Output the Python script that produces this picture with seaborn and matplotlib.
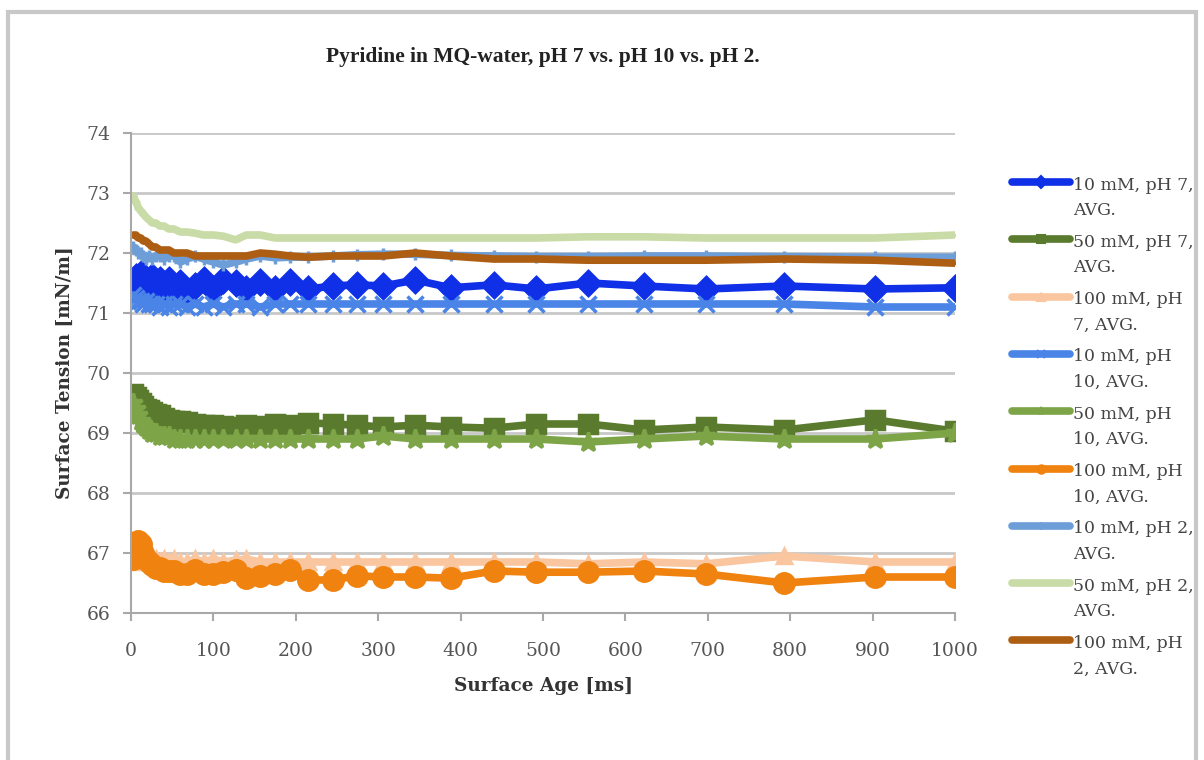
import numpy as np
import pandas as pd
import matplotlib
matplotlib.use("Agg")
import matplotlib.pyplot as plt
import seaborn as sns
from matplotlib.patches import Rectangle
from matplotlib.lines import Line2D

# ---- data ----
surface_age = [3, 6, 9, 12, 15, 18, 22, 26, 30, 35, 40, 46, 52, 60, 68, 78, 88, 100,
               112, 127, 140, 157, 175, 193, 215, 245, 274, 306, 345, 388, 440, 492,
               555, 622, 698, 793, 903, 1000]

labels = ["10 mM, pH 7,\nAVG.", "50 mM, pH 7,\nAVG.", "100 mM, pH\n7, AVG.",
          "10 mM, pH\n10, AVG.", "50 mM, pH\n10, AVG.", "100 mM, pH\n10, AVG.",
          "10 mM, pH 2,\nAVG.", "50 mM, pH 2,\nAVG.", "100 mM, pH\n2, AVG."]

ph7_10mM = [71.45, 71.6, 71.35, 71.65, 71.4, 71.55, 71.35, 71.6, 71.4, 71.55, 71.35, 71.55, 71.4,
            71.5, 71.35, 71.45, 71.55, 71.4, 71.55, 71.5, 71.4, 71.52, 71.4, 71.52, 71.4, 71.45,
            71.47, 71.45, 71.55, 71.42, 71.47, 71.4, 71.5, 71.45, 71.4, 71.45, 71.4, 71.42]
ph7_50mM = [69.65, 69.6, 69.55, 69.5, 69.45, 69.4, 69.38, 69.35, 69.32, 69.3, 69.25, 69.22, 69.2,
            69.2, 69.18, 69.15, 69.13, 69.13, 69.12, 69.1, 69.13, 69.12, 69.15, 69.13, 69.17,
            69.15, 69.13, 69.1, 69.13, 69.1, 69.08, 69.15, 69.15, 69.05, 69.1, 69.05, 69.22, 69.03]
ph7_100mM = [66.85, 66.95, 67.0, 66.95, 66.9, 66.9, 66.85, 66.85, 66.9, 66.85, 66.9, 66.85, 66.9,
             66.85, 66.85, 66.9, 66.85, 66.9, 66.85, 66.88, 66.9, 66.85, 66.85, 66.85, 66.85,
             66.85, 66.85, 66.85, 66.85, 66.85, 66.85, 66.85, 66.82, 66.85, 66.82, 66.95, 66.85,
             66.85]
ph10_10mM = [71.3, 71.25, 71.2, 71.2, 71.15, 71.2, 71.15, 71.15, 71.15, 71.1, 71.15, 71.1, 71.15,
             71.15, 71.1, 71.15, 71.1, 71.15, 71.1, 71.15, 71.15, 71.1, 71.15, 71.15, 71.15,
             71.15, 71.15, 71.15, 71.15, 71.15, 71.15, 71.15, 71.15, 71.15, 71.15, 71.15, 71.1,
             71.1]
ph10_50mM = [69.5, 69.4, 69.3, 69.2, 69.15, 69.1, 69.05, 69.0, 69.0, 68.95, 68.95, 68.95, 68.9,
             68.9, 68.9, 68.9, 68.9, 68.9, 68.9, 68.9, 68.9, 68.9, 68.9, 68.9, 68.9, 68.9, 68.9,
             68.95, 68.9, 68.9, 68.9, 68.9, 68.85, 68.9, 68.95, 68.9, 68.9, 69.0]
ph10_100mM = [66.9, 67.1, 67.2, 67.15, 67.0, 66.9, 66.85, 66.8, 66.75, 66.75, 66.7, 66.7, 66.7,
              66.65, 66.65, 66.72, 66.65, 66.65, 66.68, 66.72, 66.58, 66.62, 66.65, 66.72, 66.55,
              66.55, 66.62, 66.6, 66.6, 66.58, 66.7, 66.68, 66.68, 66.7, 66.65, 66.5, 66.6, 66.6]
ph2_10mM = [72.1, 72.05, 72.0, 72.0, 71.95, 71.9, 71.95, 71.9, 71.95, 71.95, 71.9, 71.95, 71.95,
            71.85, 71.9, 71.95, 71.9, 71.85, 71.8, 71.85, 71.9, 71.95, 71.92, 71.93, 71.93,
            71.95, 71.97, 71.98, 71.98, 71.96, 71.95, 71.94, 71.94, 71.95, 71.95, 71.94, 71.93,
            71.93]
ph2_50mM = [72.95, 72.85, 72.75, 72.7, 72.65, 72.6, 72.55, 72.5, 72.5, 72.45, 72.45, 72.4, 72.4,
            72.35, 72.35, 72.33, 72.3, 72.3, 72.28, 72.22, 72.3, 72.3, 72.25, 72.25, 72.25,
            72.25, 72.25, 72.25, 72.25, 72.25, 72.25, 72.25, 72.27, 72.27, 72.25, 72.25, 72.25,
            72.3]
ph2_100mM = [72.3, 72.3, 72.25, 72.25, 72.2, 72.2, 72.15, 72.1, 72.1, 72.05, 72.05, 72.05, 72.0,
             72.0, 72.0, 71.95, 71.95, 71.95, 71.95, 71.95, 71.95, 72.0, 71.98, 71.95, 71.93,
             71.95, 71.95, 71.95, 72.0, 71.95, 71.9, 71.9, 71.88, 71.88, 71.88, 71.9, 71.88,
             71.83]

series = [ph7_10mM, ph7_50mM, ph7_100mM, ph10_10mM, ph10_50mM, ph10_100mM,
          ph2_10mM, ph2_50mM, ph2_100mM]
colors = ["#1030E8", "#5A7A2E", "#F9C6A0", "#4A84E6", "#7DA548", "#F0820F",
          "#6E9ED8", "#C9DBA6", "#AE5E12"]
markers = ["D", "s", "^", "x", "*", "o", "+", "_", "_"]
msizes = [12, 13, 10, 11, 14, 14, 8, 6, 6]

y_ticks = [66, 67, 68, 69, 70, 71, 72, 73, 74]
x_ticks = [0, 100, 200, 300, 400, 500, 600, 700, 800, 900, 1000]

# ---- figure ----
sns.set_theme(style="white")
serif = ["DejaVu Serif"]
plt.rcParams["font.family"] = serif

W, H = 1204, 760
fig = plt.figure(figsize=(W / 100, H / 100), dpi=100)
ax = fig.add_axes([131 / W, 1 - 613 / H, (955 - 131) / W, (613 - 133) / H])

# outer chart frame
fig.patches.append(Rectangle((8 / W, -0.05), (1196 - 8) / W, 1 - 12 / H + 0.05,
                             transform=fig.transFigure, fill=False,
                             edgecolor="#C8C8C8", linewidth=3, zorder=0))

for vals, lab, col, mk, ms in zip(series, labels, colors, markers, msizes):
    df = pd.DataFrame({"age": surface_age, "st": vals})
    sns.lineplot(data=df, x="age", y="st", ax=ax, color=col, linewidth=5.5,
                 marker=mk, markersize=ms, markeredgecolor=col, markeredgewidth=2.5,
                 label=lab, legend=False, solid_joinstyle="round", solid_capstyle="round")

ax.set_xlim(0, 1000)
ax.set_ylim(66, 74)
ax.set_xticks(x_ticks)
ax.set_yticks(y_ticks)
ax.grid(axis="y", color="#C8C8C8", linewidth=2)
ax.set_axisbelow(True)
for s in ["top", "right"]:
    ax.spines[s].set_visible(False)
for s in ["left", "bottom"]:
    ax.spines[s].set_color("#A8A8A8")
    ax.spines[s].set_linewidth(1.5)
ax.tick_params(axis="both", which="major", length=6, width=1.5, color="#A8A8A8",
               labelsize=13.5, labelcolor="#555555", direction="out",
               bottom=True, left=True)
ax.tick_params(axis="x", pad=15)
ax.tick_params(axis="y", pad=9)

ax.set_xlabel("Surface Age [ms]", fontsize=13.3, fontweight="bold", color="#333333",
              labelpad=12)
ax.set_ylabel("Surface Tension [mN/m]", fontsize=13.3, fontweight="bold", color="#333333",
              labelpad=9)
fig.text(543 / W, 1 - 57 / H, "Pyridine in MQ-water, pH 7 vs. pH 10 vs. pH 2.",
         ha="center", va="center", fontsize=15.5, fontweight="bold", color="#222222",
         family=["Liberation Serif", "DejaVu Serif"])

# legend (entries to the right of the plot, handle aligned with first text line)
for i, (lab, col, mk) in enumerate(zip(labels, colors, markers)):
    yc = 182 + 57.3 * i
    fig.add_artist(Line2D([1012 / W, 1070 / W], [1 - yc / H, 1 - yc / H],
                          transform=fig.transFigure, color=col, linewidth=5.5,
                          solid_capstyle="round"))
    if mk != "_":
        fig.add_artist(Line2D([1041 / W], [1 - yc / H], transform=fig.transFigure,
                              color=col, marker=mk, markersize=6, markeredgecolor=col,
                              markeredgewidth=1.5, linestyle="none"))
    for j, line in enumerate(lab.split("\n")):
        fig.text(1073 / W, 1 - (yc + 3 + 25.5 * j) / H, line, ha="left", va="center",
                 fontsize=12.4, color="#444444")

fig.savefig("out.png", dpi=100)
